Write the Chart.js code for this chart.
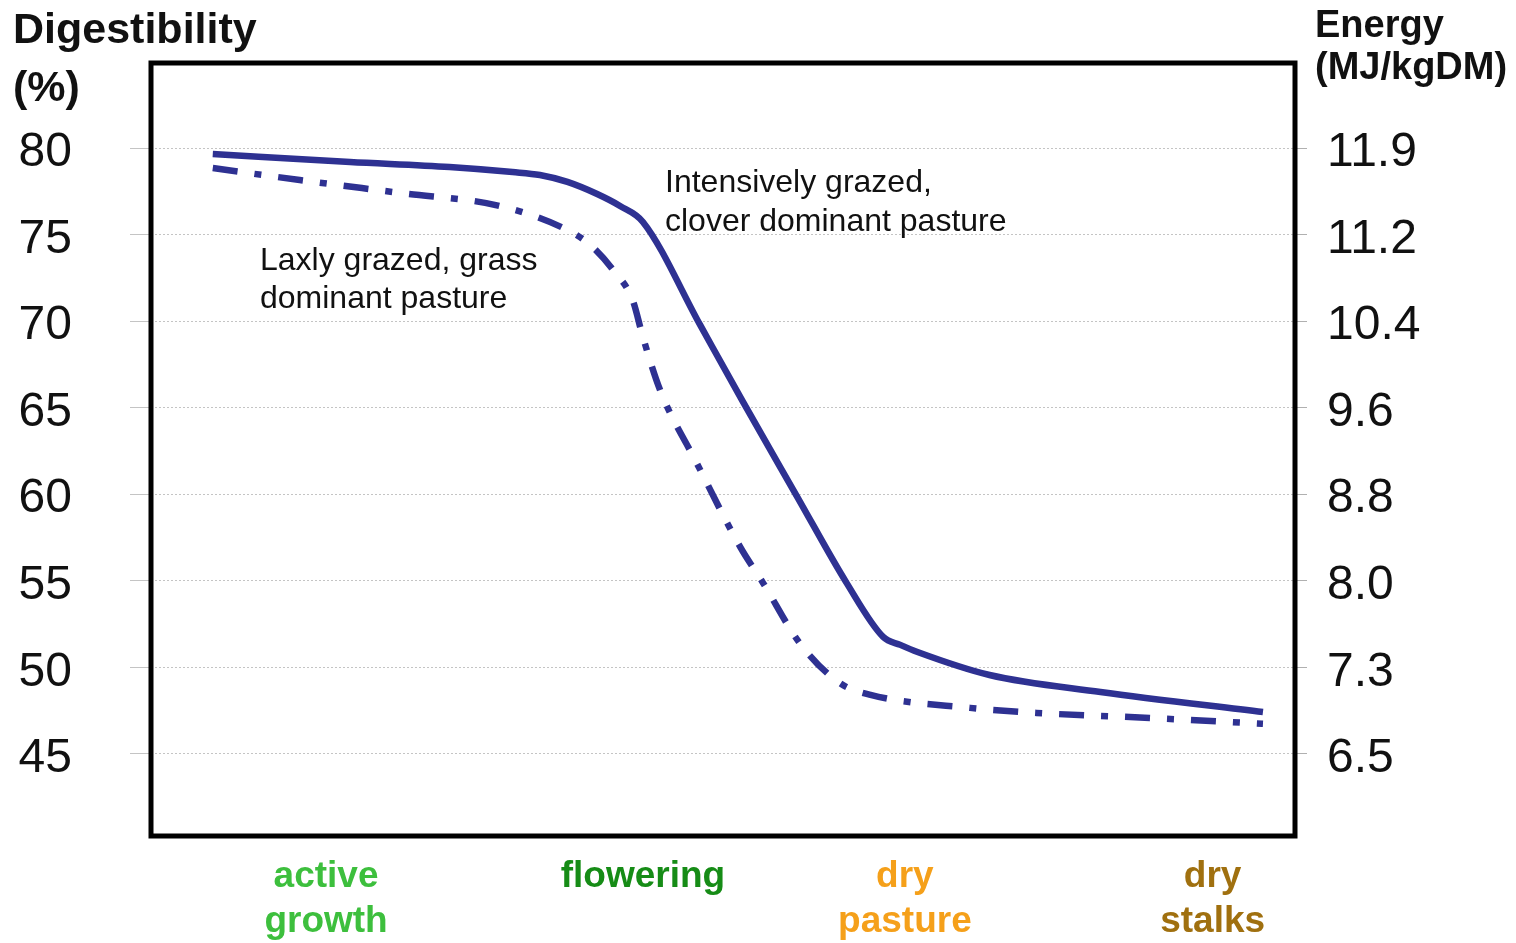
<!DOCTYPE html>
<html>
<head>
<meta charset="utf-8">
<script src="https://cdn.jsdelivr.net/npm/chart.js@4/dist/chart.umd.min.js"></script>
<style>
  body { margin: 0; background: #fff; }
  canvas { display: block; }
</style>
</head>
<body>
<canvas id="myChart" width="1516" height="943"></canvas>
<script>
// growth stage (0-100 along the season) and digestibility (%)
var intensiveX = [5.4, 17.4, 26.1, 31.6, 34.0, 36.4, 39.0, 41.0, 43.0, 48.0, 51.7, 56.5, 60.8, 64.0, 65.5, 67.0, 73.3, 83.0, 97.2];
var intensiveY = [79.65, 79.19, 78.90, 78.61, 78.44, 78.04, 77.34, 76.65, 75.73, 69.78, 65.39, 59.84, 54.88, 51.76, 51.30, 50.89, 49.56, 48.58, 47.42];

var laxX = [5.4, 13.0, 21.8, 30.5, 36.4, 38.4, 40.4, 42.1, 43.0, 44.5, 47.7, 51.5, 53.5, 56.7, 60.2, 62.9, 71.6, 77.4, 87.3, 97.2];
var laxY = [78.84, 78.15, 77.40, 76.65, 75.26, 74.40, 72.95, 71.22, 69.08, 66.02, 61.81, 56.96, 54.88, 51.41, 49.10, 48.41, 47.66, 47.37, 47.08, 46.74];

var stageX = [15.3, 43.0, 65.9, 92.8];
var stageLabels = [["active", "growth"], ["flowering"], ["dry", "pasture"], ["dry", "stalks"]];
var stageColors = ["#3dbf3d", "#168c16", "#f5a01a", "#a0700f"];

var digTicks = [45, 50, 55, 60, 65, 70, 75, 80];
var energyTicks = ["6.5", "7.3", "8.0", "8.8", "9.6", "10.4", "11.2", "11.9"];

var FONT = "'Liberation Sans', Arial, sans-serif";
var lineColor = "#2e3192";

function toPoints(xs, ys) {
  return xs.map(function (x, i) { return { x: x, y: ys[i] }; });
}

// black frame round the plot plus the free texts
var framePlugin = {
  id: "frame",
  afterDraw: function (chart) {
    var ctx = chart.ctx;
    var a = chart.chartArea;
    ctx.save();
    ctx.strokeStyle = "#000";
    ctx.lineWidth = 5;
    ctx.strokeRect(a.left, a.top, a.right - a.left, a.bottom - a.top);

    ctx.fillStyle = "#111";
    ctx.textBaseline = "alphabetic";
    ctx.textAlign = "left";
    ctx.font = "bold 43px " + FONT;
    ctx.fillText("Digestibility", 13, 43);
    ctx.fillText("(%)", 13, 101);
    ctx.font = "bold 38px " + FONT;
    ctx.fillText("Energy", 1315, 37);
    ctx.fillText("(MJ/kgDM)", 1315, 79);

    ctx.font = "32px " + FONT;
    ctx.fillText("Intensively grazed,", 665, 192);
    ctx.fillText("clover dominant pasture", 665, 231);
    ctx.fillText("Laxly grazed, grass", 260, 270);
    ctx.fillText("dominant pasture", 260, 308);
    ctx.restore();
  }
};

// tick labels do not reach the plot edges, so drop the overhang padding
function noOverhang(scale) {
  scale.paddingTop = 0;
  scale.paddingBottom = 0;
}

new Chart("myChart", {
  type: "line",
  data: {
    datasets: [{
      label: "Intensively grazed, clover dominant pasture",
      data: toPoints(intensiveX, intensiveY),
      borderColor: lineColor,
      borderWidth: 6.5,
      pointRadius: 0,
      fill: false,
      cubicInterpolationMode: "monotone"
    }, {
      label: "Laxly grazed, grass dominant pasture",
      data: toPoints(laxX, laxY),
      borderColor: lineColor,
      borderWidth: 6.5,
      borderDash: [25, 17, 7, 17],
      pointRadius: 0,
      fill: false,
      cubicInterpolationMode: "monotone"
    }]
  },
  options: {
    responsive: false,
    animation: false,
    layout: { padding: { top: 63, left: 0, right: 0, bottom: 0 } },
    plugins: {
      legend: { display: false },
      tooltip: { enabled: false }
    },
    scales: {
      x: {
        type: "linear",
        min: 0,
        max: 100,
        afterBuildTicks: function (scale) {
          scale.ticks = stageX.map(function (v) { return { value: v }; });
        },
        afterFit: function (scale) {
          scale.height = 107;
          scale.paddingLeft = 0;
          scale.paddingRight = 0;
        },
        grid: { display: false, drawTicks: false },
        border: { display: false },
        ticks: {
          autoSkip: false,
          maxRotation: 0,
          padding: 18,
          font: { family: FONT, size: 37, weight: "bold", lineHeight: 1.22 },
          color: function (c) { return stageColors[c.index]; },
          callback: function (v, i) { return stageLabels[i]; }
        }
      },
      y: {
        position: "left",
        min: 40.26,
        max: 84.91,
        afterBuildTicks: function (scale) {
          scale.ticks = digTicks.map(function (v) { return { value: v }; });
        },
        afterFit: function (scale) {
          scale.width = 151;
          noOverhang(scale);
        },
        grid: {
          color: "#c4c4c4",
          lineWidth: 1,
          tickLength: 21,
          tickColor: "#c4c4c4"
        },
        border: { display: false, dash: [2, 2] },
        ticks: {
          padding: 58,
          labelOffset: 5,
          color: "#111",
          font: { family: FONT, size: 48 },
          callback: function (v) { return v; }
        }
      },
      y2: {
        position: "right",
        min: 40.26,
        max: 84.91,
        afterBuildTicks: function (scale) {
          scale.ticks = digTicks.map(function (v) { return { value: v }; });
        },
        afterFit: function (scale) {
          scale.width = 221;
          noOverhang(scale);
        },
        grid: {
          drawOnChartArea: false,
          tickLength: 12,
          tickColor: "#b0b0b0"
        },
        border: { display: false },
        ticks: {
          padding: 20,
          labelOffset: 5,
          color: "#111",
          font: { family: FONT, size: 48 },
          callback: function (v, i) { return energyTicks[i]; }
        }
      }
    }
  },
  plugins: [framePlugin]
});
</script>
</body>
</html>
